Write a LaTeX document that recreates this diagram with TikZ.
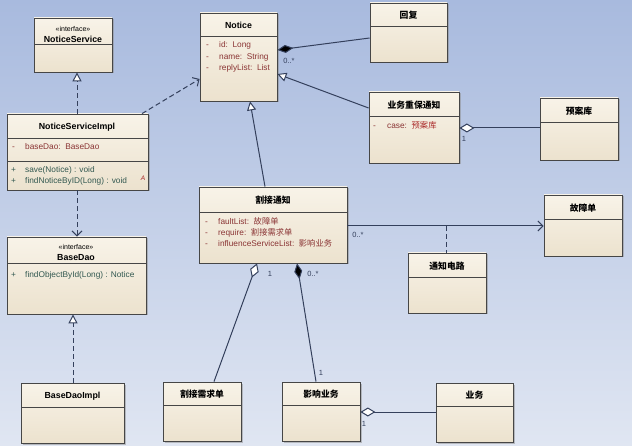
\documentclass[tikz,border=0pt]{standalone}
\usepackage{fontspec}
\setmainfont{Liberation Sans}
\newfontfamily\cjk{Noto Sans CJK SC}
\usetikzlibrary{arrows.meta,shadows,fit}
\definecolor{bgtop}{RGB}{168,186,222}
\definecolor{bgbot}{RGB}{224,230,242}
\definecolor{boxlight}{RGB}{248,243,232}
\definecolor{boxdark}{RGB}{236,226,206}
\definecolor{boxline}{RGB}{70,70,70}
\definecolor{linkc}{RGB}{52,64,92}
\definecolor{attrc}{RGB}{138,52,52}
\definecolor{methc}{RGB}{50,88,80}
\definecolor{valc}{RGB}{170,40,40}
\newcommand\umlclass[6]{%
  \node[classbox, fit={(#2,#3) (#4,#5)}] (#1) {};
  \draw[divider] (#2,#6) -- (#4,#6);
}
\begin{document}
\begin{tikzpicture}[x=1pt,y=-1pt,
  classbox/.style={draw=boxline, line width=0.8pt, inner sep=0pt,
    top color=boxlight, bottom color=boxdark,
    drop shadow={shadow xshift=1.5pt, shadow yshift=-1.5pt, fill=black!45, opacity=0.5}},
  divider/.style={draw=boxline, line width=0.7pt},
  ctitle/.style={font=\fontsize{8.8}{10}\selectfont\bfseries, text=black, inner sep=0pt},
  stereo/.style={font=\fontsize{7}{8}\selectfont, text=black, inner sep=0pt},
  attr/.style={font=\fontsize{8.3}{10}\selectfont, text=attrc, anchor=base west, inner sep=0pt},
  meth/.style={font=\fontsize{8.3}{10}\selectfont, text=methc, anchor=base west, inner sep=0pt},
  mult/.style={font=\fontsize{7.5}{9}\selectfont, text=linkc, inner sep=0pt},
  link/.style={draw=linkc, line width=1pt},
  dashlink/.style={link, dash pattern=on 5pt off 3pt},
  realize/.style={dashlink, -{Triangle[length=9pt,width=9pt,fill=white]}},
  depend/.style={dashlink, -{Straight Barb[length=5pt,width=10pt]}},
  general/.style={link, -{Triangle[length=9pt,width=9pt,fill=white]}},
  navig/.style={link, -{Straight Barb[length=5pt,width=10pt]}},
  compos/.style={link, {Diamond[length=16pt,width=8pt,fill=black]}-},
  aggreg/.style={link, {Diamond[length=15pt,width=9pt,fill=white]}-}
]
\useasboundingbox (0,0) rectangle (632,446);
\shade[top color=bgtop, bottom color=bgbot] (0,0) rectangle (632,446);

% classes
\umlclass{ns}{34}{18}{112}{72}{44}
\umlclass{nsi}{7}{114}{148}{190}{138}
\draw[divider] (7,161) -- (148,161);
\umlclass{bd}{7}{237}{146}{314}{263}
\umlclass{bdi}{21}{383}{124}{443}{407}
\umlclass{notice}{200}{13}{277}{101}{36}
\umlclass{reply}{370}{3}{447}{62}{26}
\umlclass{bn}{369}{92}{459}{163}{116}
\umlclass{plan}{540}{98}{618}{160}{122}
\umlclass{cut}{199}{187}{347}{263}{212}
\umlclass{fault}{544}{195}{622}{256}{219}
\umlclass{circ}{408}{253}{486}{313}{277}
\umlclass{req}{163}{382}{241}{441}{405}
\umlclass{infl}{282}{382}{360}{441}{405}
\umlclass{svc}{436}{383}{513}{442}{406}

% titles
\node[stereo] (ns-s) at (73,29) {«interface»};
\node[ctitle] (ns-t) at (73,39.5) {NoticeService};
\node[ctitle] (nsi-t) at (77,127) {NoticeServiceImpl};
\node[stereo] (bd-s) at (76,247) {«interface»};
\node[ctitle] (bd-t) at (76,258) {BaseDao};
\node[ctitle] (bdi-t) at (72.5,396) {BaseDaoImpl};
\node[ctitle] (notice-t) at (238.5,25) {Notice};
\node[ctitle] (reply-t) at (408.5,15) {\cjk 回复};
\node[ctitle] (bn-t) at (414,105) {\cjk 业务重保通知};
\node[ctitle] (plan-t) at (579,111) {\cjk 预案库};
\node[ctitle] (cut-t) at (273,200) {\cjk 割接通知};
\node[ctitle] (fault-t) at (583,208) {\cjk 故障单};
\node[ctitle] (circ-t) at (447,266) {\cjk 通知电路};
\node[ctitle] (req-t) at (202,394) {\cjk 割接需求单};
\node[ctitle] (infl-t) at (321,394) {\cjk 影响业务};
\node[ctitle] (svc-t) at (474.5,395) {\cjk 业务};

% members
\node[attr] (nsi-a1m) at (12,150) {-};
\node[attr] (nsi-a1) at (25,150) {baseDao:\ \ BaseDao};
\node[meth] (nsi-m1p) at (11,173) {+};
\node[meth] (nsi-m1) at (25,173) {save(Notice) : void};
\node[meth] (nsi-m2p) at (11,184) {+};
\node[meth] (nsi-m2) at (25,184) {findNoticeByID(Long) : void};
\node[font=\fontsize{6.5}{7}\selectfont\itshape, text=valc, inner sep=0pt] (nsi-abs) at (143,178) {A};
\node[meth] (bd-m1p) at (11,278) {+};
\node[meth] (bd-m1) at (25,278) {findObjectById(Long) : Notice};

\node[attr] (n-a1m) at (206,48) {-};
\node[attr] (n-a1) at (219,48) {id:\ \ Long};
\node[attr] (n-a2m) at (206,59.5) {-};
\node[attr] (n-a2) at (219,59.5) {name:\ \ String};
\node[attr] (n-a3m) at (206,71) {-};
\node[attr] (n-a3) at (219,71) {replyList:\ \ List};

\node[attr] (bn-a1m) at (373,129) {-};
\node[attr] (bn-a1) at (387,129) {case:\ \ {\cjk\color{valc}预案库}};

\node[attr] (c-a1m) at (205,225) {-};
\node[attr] (c-a1) at (218,225) {faultList:\ \ {\cjk 故障单}};
\node[attr] (c-a2m) at (205,236) {-};
\node[attr] (c-a2) at (218,236) {require:\ \ {\cjk 割接需求单}};
\node[attr] (c-a3m) at (205,247) {-};
\node[attr] (c-a3) at (218,247) {influenceServiceList:\ \ {\cjk 影响业务}};

% connectors
\draw[realize] (nsi.north -| 77,0) -- (ns.south -| 77,0);
\draw[depend] (nsi.north -| 142,0) -- (notice.west |- 0,79);
\draw[depend] (nsi.south -| 77,0) -- (bd.north -| 77,0);
\draw[realize] (bdi.north -| 73,0) -- (bd.south -| 73,0);

\draw[compos] (notice.east |- 0,50) -- (reply.west |- 0,38);
\node[mult] (m-reply) at (289,61) {0..*};
\draw[general] (bn.west |- 0,108) -- (notice.east |- 0,74);
\draw[aggreg] (bn.east |- 0,128) -- (plan.west |- 0,128);
\node[mult] (m-plan) at (464,139) {1};

\draw[general] (cut.north -| 265,0) -- (notice.south -| 250,0);
\draw[navig] (cut.east |- 0,226) -- (fault.west |- 0,226);
\node[mult] (m-fault) at (358,235) {0..*};
\coordinate (circ-j) at (446,226);
\draw[dashlink] (circ-j) -- (circ.north -| circ-j);

\draw[aggreg] (cut.south -| 257,0) -- (req.north -| 214,0);
\node[mult] (m-req) at (270,274) {1};
\draw[compos] (cut.south -| 297,0) -- (infl.north -| 316,0);
\node[mult] (m-infl1) at (313,274) {0..*};
\node[mult] (m-infl2) at (321,373) {1};

\draw[aggreg] (infl.east |- 0,412) -- (svc.west |- 0,412);
\node[mult] (m-svc) at (364,424) {1};
\end{tikzpicture}
\end{document}
